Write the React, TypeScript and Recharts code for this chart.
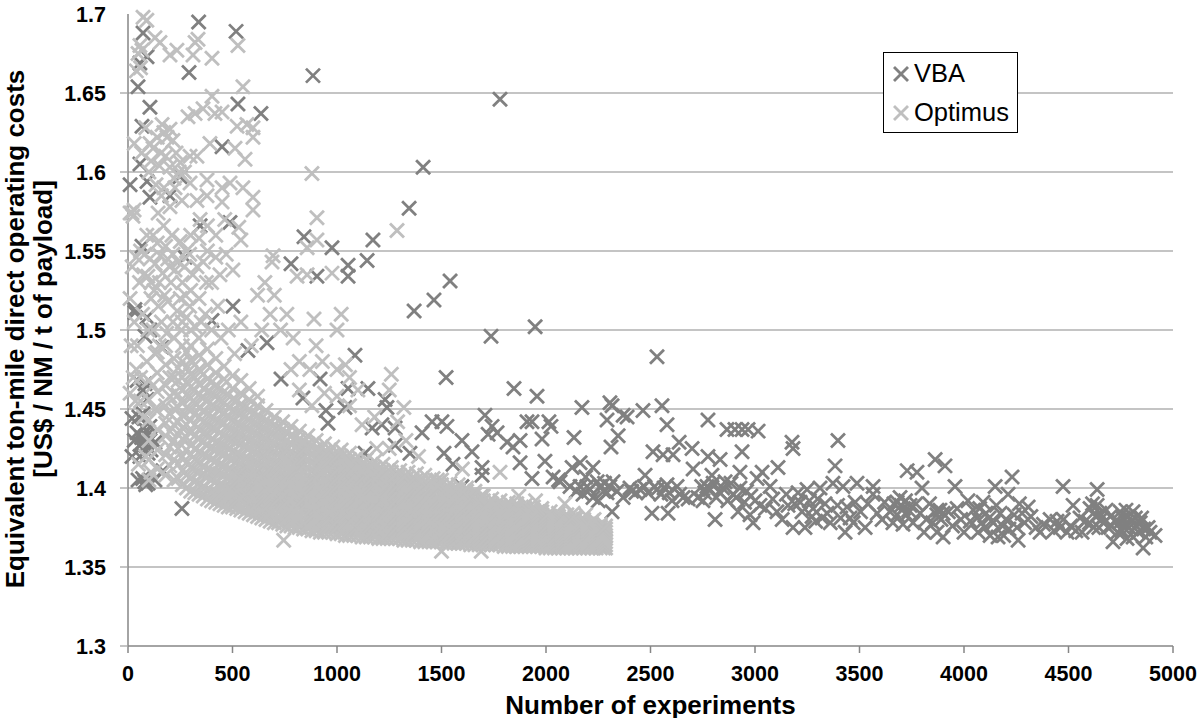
import { CartesianGrid, Legend, Scatter, ScatterChart, XAxis, YAxis } from "recharts";

const xTicks = [0, 500, 1000, 1500, 2000, 2500, 3000, 3500, 4000, 4500, 5000];
const yTicks = [1.3, 1.35, 1.4, 1.45, 1.5, 1.55, 1.6, 1.65, 1.7];
const gridValues = [1.35, 1.4, 1.45, 1.5, 1.55, 1.6, 1.65];
const FONT = "Liberation Sans, Arial, sans-serif";
const VBA_COLOR = "#808080";
const OPTIMUS_COLOR = "#bfbfbf";

const vbaEarly = [
  [338,1.695],[517,1.689],[885,1.661],[1780,1.646],[292,1.663],[526,1.643],[636,1.637],[67,1.629],[450,1.616],[57,1.605],
  [249,1.597],[91,1.594],[10,1.592],[201,1.585],[105,1.584],[488,1.568],[345,1.566],[842,1.559],[976,1.552],[1172,1.557],
  [1144,1.544],[1053,1.541],[1053,1.534],[904,1.534],[780,1.542],[67,1.553],[273,1.546],[72,1.688],[57,1.669],[91,1.673],
  [48,1.654],[105,1.641],[1412,1.603],[1345,1.577],[1541,1.531],[1464,1.519],[1369,1.512],[1948,1.502],[1737,1.496],[1522,1.47],
  [1847,1.463],[1957,1.458],[33,1.513],[33,1.511],[91,1.508],[105,1.5],[81,1.496],[163,1.489],[402,1.506],[502,1.515],
  [574,1.487],[665,1.492],[732,1.469],[919,1.469],[1086,1.484],[1053,1.463],[1148,1.463],[837,1.457],[947,1.449],[1038,1.451],
  [957,1.441],[1230,1.456],[1239,1.451],[1215,1.44],[1168,1.438],[1278,1.438],[1134,1.422],[1278,1.427],[258,1.387],[91,1.456],
  [72,1.447],[19,1.444],[43,1.435],[105,1.43],[72,1.429],[96,1.426],[19,1.42],[129,1.429],[57,1.42],[96,1.422],
  [48,1.405],[96,1.403],[129,1.405],[167,1.411],[105,1.439],[81,1.466],[43,1.468],[72,1.462],[80,1.404],[62,1.428],
  [88,1.433],[110,1.424],[75,1.438],[52,1.445],[85,1.402],[70,1.406],[65,1.432],[84,1.427],[92,1.436],[30,1.43],
];
const vbaMiddle = [
  [2172,1.451],[2306,1.454],[2316,1.452],[2555,1.452],[2464,1.449],[2292,1.443],[2388,1.445],[2369,1.446],[1708,1.446],[1909,1.442],
  [1933,1.442],[2014,1.442],[2024,1.439],[2579,1.44],[1455,1.442],[1502,1.442],[1526,1.439],[1407,1.435],[1742,1.439],[1723,1.434],
  [1766,1.435],[1814,1.429],[1876,1.43],[1842,1.426],[1981,1.431],[2134,1.432],[2345,1.433],[2311,1.426],[2637,1.429],[1598,1.43],
  [1512,1.422],[1646,1.423],[1555,1.415],[1349,1.422],[1694,1.413],[1694,1.408],[1876,1.416],[1995,1.417],[2163,1.416],[2125,1.413],
  [2225,1.413],[2474,1.408],[2512,1.423],[2560,1.421],[2608,1.421],[2699,1.425],[2704,1.412],[2034,1.407],[2067,1.404],[1933,1.406],
  [1598,1.401],[2163,1.401],[2196,1.401],[2259,1.401],[2321,1.404],[2292,1.397],[2225,1.394],[2115,1.401],[2177,1.396],[2402,1.4],
  [2369,1.394],[2450,1.399],[2488,1.397],[2531,1.399],[2579,1.402],[2627,1.401],[2603,1.392],[2656,1.394],[2727,1.394],[2316,1.385],
  [2507,1.384],[2584,1.384],[2531,1.483],[2060,1.405],[2210,1.399],[2280,1.403],[2340,1.398],[2430,1.397],[2470,1.401],[2550,1.396],
  [2590,1.397],[2640,1.396],[2680,1.393],[2245,1.404],[2275,1.398],[2305,1.401],[2250,1.392],[2190,1.407],[2145,1.398],[2410,1.398],
  [2520,1.401],[2565,1.4],
];
const vbaTail = [
  [2775,1.443],[2866,1.437],[2904,1.437],[2938,1.437],[2967,1.437],[3015,1.436],[2938,1.423],[2775,1.42],[2833,1.418],[3177,1.429],
  [3182,1.425],[3397,1.43],[3383,1.414],[3110,1.413],[3034,1.41],[2928,1.41],[2794,1.408],[2857,1.404],[2770,1.401],[2833,1.397],
  [2928,1.4],[3010,1.406],[3072,1.401],[2895,1.396],[2751,1.392],[2809,1.38],[3024,1.389],[2919,1.385],[2976,1.383],[2991,1.378],
  [3105,1.385],[3158,1.389],[3206,1.397],[3249,1.399],[3311,1.4],[3373,1.403],[3421,1.401],[3488,1.403],[3565,1.401],[3216,1.391],
  [3345,1.384],[3278,1.387],[3321,1.381],[3182,1.375],[3239,1.375],[3273,1.382],[3431,1.372],[3455,1.381],[3479,1.391],[3527,1.375],
  [3565,1.396],[3608,1.38],[3646,1.385],[3694,1.394],[3728,1.411],[3775,1.41],[3862,1.418],[3909,1.414],[3799,1.4],[3708,1.377],
  [3756,1.378],[3809,1.372],[3871,1.372],[3900,1.369],[3680,1.391],[3742,1.389],[3871,1.386],[3900,1.384],[3790,1.384],[3967,1.387],
  [3957,1.401],[4019,1.392],[4063,1.381],[4067,1.372],[4091,1.391],[4149,1.401],[4211,1.396],[4230,1.407],[4173,1.384],[4163,1.369],
  [4254,1.375],[4259,1.367],[4307,1.388],[4278,1.384],[4364,1.372],[4412,1.38],[4460,1.375],[4474,1.401],[4522,1.389],[4493,1.372],
  [4565,1.372],[4555,1.381],[4637,1.399],[4637,1.389],[4661,1.381],[4713,1.366],[4689,1.375],[4747,1.385],[4785,1.382],[4809,1.369],
  [4857,1.362],[4843,1.378],[4881,1.375],[4914,1.37],[4756,1.373],[4809,1.385],[4603,1.387],[3700,1.389],[3720,1.392],[3735,1.386],
  [3870,1.383],[3885,1.386],[4085,1.378],[4100,1.375],[4120,1.381],[4140,1.378],[4185,1.376],[4200,1.38],[4215,1.374],[4650,1.384],
  [4670,1.378],[4700,1.382],[4725,1.379],[4770,1.377],[4790,1.375],[4825,1.376],[4835,1.372],[4860,1.374],[4600,1.378],[4620,1.375],
];
const vbaBand = [
  [2745,1.401],[2760,1.397],[2785,1.399],[2800,1.403],[2815,1.394],[2845,1.4],[2870,1.392],[2885,1.403],[2910,1.394],[2950,1.391],
  [2960,1.398],[2980,1.395],[3000,1.392],[3050,1.387],[3085,1.393],[3130,1.38],[3150,1.396],[3190,1.39],[3225,1.385],[3260,1.392],
  [3290,1.379],[3300,1.393],[3335,1.39],[3360,1.378],[3395,1.389],[3410,1.381],[3440,1.388],[3470,1.378],[3505,1.385],[3540,1.39],
  [3585,1.384],[3620,1.391],[3660,1.378],[3665,1.39],[3680,1.383],[3710,1.387],[3725,1.383],[3770,1.39],[3820,1.38],[3835,1.39],
  [3850,1.378],[3890,1.38],[3925,1.385],[3945,1.376],[3985,1.38],[4000,1.372],[4030,1.379],[4045,1.386],[4075,1.387],[4105,1.384],
  [4125,1.37],[4155,1.389],[4190,1.37],[4240,1.383],[4265,1.39],[4290,1.378],[4320,1.382],[4345,1.375],[4380,1.377],[4430,1.373],
  [4445,1.379],[4475,1.38],[4510,1.376],[4535,1.373],[4580,1.379],[4615,1.39],[4630,1.382],[4645,1.375],[4680,1.386],[4705,1.376],
  [4735,1.372],[4745,1.378],[4760,1.381],[4775,1.386],[4800,1.379],[4820,1.381],[4850,1.381],[4870,1.369],[4890,1.372],[4780,1.368],
];

const optimusSparse = [
  [72,1.698],[90,1.696],[67,1.677],[48,1.675],[57,1.68],[60,1.666],[40,1.664],[129,1.685],[153,1.682],[201,1.674],[234,1.677],
  [321,1.682],[335,1.684],[311,1.674],[402,1.672],[526,1.68],[550,1.654],[402,1.648],[359,1.64],[321,1.637],[287,1.635],[450,1.638],
  [416,1.637],[522,1.629],[569,1.63],[598,1.628],[598,1.622],[512,1.615],[560,1.608],[392,1.618],[297,1.61],[330,1.61],[880,1.599],
  [904,1.571],[857,1.552],[904,1.557],[694,1.547],[689,1.543],[809,1.534],[857,1.535],[976,1.536],[1287,1.563],[502,1.538],[19,1.574],
  [10,1.574],[24,1.572],[29,1.576],[598,1.584],[598,1.576],[550,1.59],[488,1.593],[450,1.59],[450,1.581],[378,1.595],[378,1.585],
  [297,1.593],[258,1.582],[330,1.582],[201,1.578],[144,1.574],[100,1.6],[120,1.615],[163,1.63],[172,1.625],[187,1.622],[201,1.627],
  [215,1.62],[158,1.612],[110,1.607],[230,1.612],[250,1.606],[134,1.592],[172,1.59],[220,1.596],[270,1.6],[345,1.57],[380,1.566],
  [420,1.56],[463,1.57],[530,1.565],[540,1.557],[470,1.548],[420,1.546],[380,1.55],[340,1.558],[300,1.56],[280,1.55],[250,1.556],
  [210,1.56],[170,1.566],[120,1.56],[80,1.548],[40,1.546],[20,1.54],[10,1.52],[30,1.505],[55,1.53],[95,1.534],[130,1.542],
  [165,1.536],[190,1.545],[225,1.538],[260,1.53],[300,1.525],[340,1.52],[375,1.53],[110,1.52],[145,1.515],[190,1.518],[235,1.512],
  [280,1.508],[320,1.502],[655,1.53],[620,1.522],[700,1.522],[760,1.51],[790,1.495],[730,1.5],[680,1.51],[640,1.5],[590,1.49],
  [540,1.505],[480,1.5],[430,1.515],[890,1.507],[900,1.49],[930,1.48],[870,1.475],[820,1.48],[780,1.475],[1000,1.5],[1020,1.51],
  [1040,1.478],[1000,1.475],[1060,1.47],[1100,1.462],[1260,1.472],[1250,1.462],[1320,1.451],[1290,1.442],[1330,1.43],[1180,1.445],
  [1120,1.44],[1060,1.452],[1000,1.458],[940,1.46],[880,1.452],[820,1.462],[1190,1.425],[1250,1.425],[1480,1.405],[1390,1.42],
  [1600,1.412],[1690,1.395],[1780,1.41],[1870,1.395],[1950,1.392],[2090,1.39],[2130,1.384],[2190,1.383],[2230,1.38],[2260,1.376],
  [10,1.46],[25,1.47],[15,1.49],[35,1.455],[40,1.475],[60,1.47],[90,1.48],[120,1.5],[150,1.49],[745,1.367],[1500,1.36],[1690,1.36],
  [30,1.618],[65,1.612],[85,1.628],[105,1.618],[140,1.622],[150,1.604],[180,1.61],[200,1.603],[225,1.59],[245,1.6],[160,1.585],
  [60,1.55],[90,1.56],[105,1.545],[140,1.555],[155,1.547],[180,1.553],[200,1.54],[215,1.548],[240,1.543],[270,1.54],[295,1.548],
  [310,1.535],[330,1.54],[360,1.543],[400,1.53],[440,1.535],[75,1.535],[110,1.53],[125,1.525],[150,1.53],[175,1.522],[205,1.53],
  [250,1.52],[275,1.522],[215,1.505],[255,1.5],[295,1.515],[350,1.505],[370,1.51],[400,1.5],[445,1.495],[510,1.485],[160,1.505],
  [185,1.498],[130,1.485],[95,1.5],[70,1.51],[45,1.49],[60,1.455],[75,1.445],[85,1.42],[50,1.415],[110,1.41],[130,1.45],[120,1.465],
];

// the solid cloud, one [experiment, costs] per column
const optimusCloud: [number, number[]][] = [
  [100,[1.405,1.418,1.43,1.443,1.456,1.468]],
  [140,[1.412,1.424,1.437,1.449,1.461,1.473,1.486]],
  [180,[1.408,1.421,1.433,1.441,1.452,1.465,1.478,1.49]],
  [220,[1.405,1.418,1.43,1.44,1.45,1.46,1.47,1.482,1.495]],
  [260,[1.402,1.411,1.42,1.431,1.438,1.446,1.454,1.462,1.47,1.48,1.49,1.505]],
  [300,[1.398,1.406,1.413,1.421,1.427,1.435,1.443,1.449,1.457,1.464,1.472,1.481,1.49,1.5]],
  [340,[1.396,1.403,1.41,1.416,1.423,1.431,1.437,1.445,1.451,1.459,1.466,1.475,1.484,1.495]],
  [380,[1.393,1.399,1.407,1.412,1.42,1.427,1.434,1.44,1.447,1.455,1.461,1.469,1.478,1.488]],
  [420,[1.391,1.397,1.404,1.41,1.417,1.424,1.429,1.437,1.443,1.451,1.458,1.465,1.473,1.482]],
  [460,[1.389,1.395,1.401,1.408,1.414,1.421,1.427,1.433,1.441,1.447,1.454,1.461,1.469,1.477]],
  [500,[1.388,1.393,1.399,1.405,1.411,1.418,1.423,1.43,1.436,1.443,1.449,1.456,1.463,1.471]],
  [540,[1.386,1.392,1.397,1.403,1.409,1.415,1.421,1.428,1.434,1.44,1.447,1.453,1.46,1.468]],
  [580,[1.384,1.389,1.395,1.4,1.407,1.412,1.418,1.425,1.43,1.437,1.443,1.45,1.456,1.463]],
  [620,[1.382,1.388,1.393,1.399,1.404,1.41,1.416,1.422,1.428,1.434,1.44,1.446,1.452,1.458]],
  [660,[1.38,1.385,1.391,1.396,1.402,1.407,1.413,1.419,1.425,1.431,1.437,1.443,1.449]],
  [700,[1.378,1.383,1.389,1.394,1.4,1.405,1.411,1.416,1.423,1.428,1.434,1.44,1.445]],
  [740,[1.377,1.382,1.387,1.392,1.398,1.403,1.409,1.414,1.42,1.425,1.431,1.437,1.442]],
  [780,[1.376,1.38,1.386,1.39,1.396,1.401,1.406,1.412,1.417,1.423,1.428,1.433,1.439]],
  [820,[1.375,1.379,1.384,1.389,1.394,1.399,1.404,1.409,1.415,1.42,1.425,1.431,1.436]],
  [860,[1.374,1.378,1.383,1.388,1.392,1.397,1.402,1.408,1.413,1.418,1.423,1.428,1.433]],
  [900,[1.373,1.377,1.382,1.386,1.391,1.396,1.4,1.405,1.41,1.415,1.42,1.425,1.43]],
  [940,[1.372,1.376,1.381,1.385,1.39,1.394,1.399,1.404,1.409,1.413,1.418,1.423,1.428]],
  [980,[1.372,1.375,1.38,1.384,1.388,1.393,1.397,1.402,1.407,1.411,1.416,1.421,1.426]],
  [1020,[1.371,1.375,1.379,1.383,1.387,1.392,1.396,1.401,1.405,1.41,1.415,1.42,1.424]],
  [1060,[1.37,1.374,1.378,1.382,1.386,1.39,1.395,1.399,1.404,1.408,1.413,1.418,1.422]],
  [1100,[1.37,1.373,1.377,1.381,1.385,1.389,1.394,1.398,1.402,1.407,1.411,1.416,1.42]],
  [1140,[1.369,1.373,1.376,1.38,1.384,1.388,1.392,1.397,1.401,1.405,1.41,1.414,1.418]],
  [1180,[1.369,1.372,1.376,1.379,1.383,1.387,1.391,1.395,1.4,1.404,1.408,1.413,1.417]],
  [1220,[1.368,1.372,1.375,1.379,1.382,1.386,1.39,1.394,1.398,1.403,1.407,1.411,1.415]],
  [1260,[1.368,1.371,1.374,1.378,1.381,1.385,1.389,1.393,1.397,1.401,1.405,1.41,1.413]],
  [1300,[1.368,1.371,1.374,1.377,1.381,1.384,1.388,1.392,1.396,1.4,1.404,1.408,1.411]],
  [1340,[1.367,1.37,1.373,1.376,1.38,1.383,1.387,1.391,1.395,1.399,1.403,1.407,1.41]],
  [1380,[1.367,1.37,1.373,1.376,1.379,1.382,1.386,1.39,1.394,1.398,1.402,1.405,1.409]],
  [1420,[1.366,1.369,1.372,1.375,1.378,1.382,1.385,1.389,1.393,1.397,1.401,1.404,1.408]],
  [1460,[1.366,1.369,1.372,1.375,1.378,1.381,1.385,1.388,1.392,1.396,1.4,1.403,1.406]],
  [1500,[1.366,1.368,1.371,1.374,1.377,1.38,1.384,1.387,1.391,1.395,1.398,1.402,1.405]],
  [1540,[1.365,1.368,1.371,1.374,1.377,1.38,1.383,1.387,1.39,1.393,1.397,1.4,1.403]],
  [1580,[1.365,1.368,1.37,1.373,1.376,1.379,1.382,1.386,1.389,1.392,1.396,1.399,1.402]],
  [1620,[1.365,1.367,1.37,1.373,1.376,1.379,1.382,1.385,1.388,1.391,1.394,1.398,1.4]],
  [1660,[1.364,1.367,1.37,1.372,1.375,1.378,1.381,1.384,1.387,1.39,1.393,1.396,1.398]],
  [1700,[1.364,1.367,1.369,1.372,1.375,1.377,1.38,1.383,1.386,1.389,1.392,1.395]],
  [1740,[1.364,1.366,1.369,1.371,1.374,1.377,1.38,1.382,1.385,1.388,1.39,1.393]],
  [1780,[1.364,1.366,1.368,1.371,1.374,1.376,1.379,1.382,1.384,1.387,1.389,1.392]],
  [1820,[1.363,1.366,1.368,1.371,1.373,1.376,1.378,1.381,1.383,1.386,1.388,1.391]],
  [1860,[1.363,1.365,1.368,1.37,1.373,1.375,1.378,1.38,1.383,1.385,1.388,1.39]],
  [1900,[1.363,1.365,1.367,1.37,1.372,1.375,1.377,1.38,1.382,1.385,1.387,1.389]],
  [1940,[1.363,1.365,1.367,1.369,1.372,1.374,1.377,1.379,1.381,1.384,1.386,1.388]],
  [1980,[1.363,1.365,1.367,1.369,1.371,1.374,1.376,1.378,1.381,1.383,1.385,1.387]],
  [2020,[1.362,1.364,1.366,1.369,1.371,1.373,1.376,1.378,1.38,1.382,1.385]],
  [2060,[1.362,1.364,1.366,1.368,1.371,1.373,1.375,1.377,1.38,1.382,1.384]],
  [2100,[1.362,1.364,1.366,1.368,1.37,1.372,1.375,1.377,1.379,1.381,1.383]],
  [2140,[1.362,1.364,1.366,1.368,1.37,1.372,1.374,1.376,1.378,1.38,1.382]],
  [2180,[1.362,1.364,1.366,1.367,1.37,1.372,1.374,1.376,1.378,1.38]],
  [2220,[1.362,1.364,1.365,1.367,1.369,1.371,1.373,1.375,1.377,1.379]],
  [2260,[1.362,1.363,1.365,1.367,1.369,1.371,1.373,1.375,1.377]],
  [2285,[1.362,1.364,1.366,1.368,1.37,1.372,1.374,1.376]],
];

// second pass through the cloud, between the columns above
const optimusFill: [number, number[]][] = [
  [200,[1.414,1.426,1.436,1.447,1.458,1.47]],
  [240,[1.406,1.415,1.425,1.434,1.442,1.451,1.459,1.468,1.476]],
  [280,[1.4,1.408,1.416,1.424,1.432,1.44,1.451,1.459,1.467,1.476,1.486]],
  [320,[1.397,1.404,1.411,1.418,1.425,1.433,1.44,1.447,1.454,1.462,1.47,1.478]],
  [360,[1.395,1.401,1.408,1.414,1.421,1.429,1.435,1.442,1.449,1.457,1.463,1.472]],
  [400,[1.392,1.398,1.405,1.411,1.418,1.425,1.431,1.438,1.445,1.452,1.46,1.467]],
  [440,[1.39,1.396,1.402,1.409,1.415,1.422,1.428,1.435,1.442,1.449,1.456,1.463]],
  [480,[1.388,1.394,1.4,1.406,1.412,1.419,1.425,1.431,1.438,1.445,1.451,1.459]],
  [520,[1.387,1.392,1.398,1.404,1.41,1.416,1.422,1.429,1.435,1.441,1.448,1.455]],
  [560,[1.385,1.39,1.396,1.402,1.408,1.413,1.419,1.426,1.432,1.438,1.445,1.451]],
  [600,[1.383,1.388,1.394,1.4,1.405,1.411,1.417,1.423,1.429,1.435,1.441,1.447]],
  [640,[1.381,1.386,1.392,1.397,1.403,1.408,1.414,1.42,1.426,1.432,1.438,1.444]],
  [680,[1.379,1.384,1.39,1.395,1.401,1.406,1.412,1.418,1.424,1.429,1.435,1.441]],
  [720,[1.378,1.382,1.388,1.393,1.399,1.404,1.41,1.415,1.421,1.426,1.432,1.438]],
  [760,[1.376,1.381,1.386,1.391,1.397,1.402,1.407,1.413,1.418,1.424,1.43,1.435]],
  [800,[1.375,1.38,1.385,1.39,1.395,1.4,1.405,1.41,1.416,1.421,1.426,1.432]],
  [840,[1.374,1.378,1.384,1.388,1.393,1.398,1.403,1.409,1.414,1.419,1.424,1.429]],
  [880,[1.373,1.378,1.382,1.387,1.392,1.396,1.401,1.406,1.411,1.416,1.421,1.427]],
  [920,[1.372,1.376,1.381,1.386,1.39,1.395,1.4,1.404,1.409,1.414,1.419,1.424]],
  [960,[1.372,1.375,1.38,1.384,1.389,1.393,1.398,1.403,1.407,1.412,1.417,1.422]],
  [1000,[1.371,1.375,1.379,1.383,1.388,1.392,1.397,1.401,1.406,1.411,1.416,1.42]],
  [1040,[1.37,1.374,1.378,1.382,1.386,1.391,1.395,1.4,1.404,1.409,1.414,1.419]],
  [1080,[1.37,1.373,1.377,1.381,1.385,1.39,1.394,1.398,1.403,1.407,1.412,1.417]],
  [1120,[1.369,1.373,1.376,1.38,1.384,1.389,1.393,1.397,1.402,1.406,1.41,1.415]],
  [1160,[1.369,1.372,1.376,1.38,1.383,1.388,1.392,1.396,1.4,1.405,1.409,1.413]],
  [1200,[1.368,1.372,1.375,1.379,1.383,1.386,1.39,1.395,1.399,1.403,1.408,1.412]],
  [1240,[1.368,1.371,1.375,1.378,1.382,1.385,1.389,1.394,1.398,1.402,1.406,1.41]],
  [1280,[1.368,1.371,1.374,1.378,1.381,1.385,1.388,1.392,1.396,1.4,1.404,1.408]],
  [1320,[1.367,1.37,1.374,1.377,1.38,1.384,1.387,1.391,1.395,1.399,1.403,1.407]],
  [1360,[1.367,1.37,1.373,1.376,1.379,1.383,1.386,1.39,1.394,1.398,1.402,1.405]],
  [1400,[1.366,1.37,1.372,1.376,1.379,1.382,1.386,1.389,1.393,1.397,1.4,1.404]],
  [1440,[1.366,1.369,1.372,1.375,1.378,1.381,1.385,1.388,1.392,1.395,1.399,1.402]],
  [1480,[1.366,1.369,1.371,1.375,1.378,1.381,1.384,1.387,1.391,1.394,1.398,1.401]],
  [1520,[1.365,1.368,1.371,1.374,1.377,1.38,1.383,1.386,1.39,1.393,1.396,1.399]],
  [1560,[1.365,1.368,1.37,1.373,1.376,1.379,1.382,1.386,1.389,1.392,1.395,1.398]],
  [1600,[1.365,1.367,1.37,1.373,1.376,1.379,1.382,1.385,1.388,1.391,1.394,1.397]],
  [1640,[1.364,1.367,1.37,1.372,1.375,1.378,1.381,1.384,1.387,1.39,1.393]],
  [1680,[1.364,1.367,1.369,1.372,1.375,1.377,1.38,1.383,1.386,1.389,1.391]],
  [1720,[1.364,1.366,1.369,1.372,1.374,1.377,1.38,1.382,1.385,1.388,1.39]],
  [1760,[1.364,1.366,1.368,1.371,1.374,1.376,1.379,1.381,1.384,1.387,1.389]],
  [1800,[1.363,1.366,1.368,1.371,1.373,1.376,1.378,1.381,1.383,1.386,1.388]],
  [1840,[1.363,1.365,1.368,1.37,1.373,1.375,1.378,1.38,1.383,1.385,1.387]],
  [1880,[1.363,1.365,1.367,1.37,1.372,1.375,1.377,1.379,1.382,1.384,1.386]],
  [1920,[1.363,1.365,1.367,1.369,1.372,1.374,1.376,1.379,1.381,1.383,1.385]],
  [1960,[1.363,1.365,1.367,1.369,1.371,1.374,1.376,1.378,1.38,1.383,1.385]],
  [2000,[1.362,1.364,1.366,1.369,1.371,1.373,1.375,1.378,1.38,1.382]],
  [2040,[1.362,1.364,1.366,1.368,1.371,1.373,1.375,1.377,1.379,1.381]],
  [2080,[1.362,1.364,1.366,1.368,1.37,1.372,1.375,1.377,1.379,1.381]],
  [2120,[1.362,1.364,1.366,1.368,1.37,1.372,1.374,1.376,1.378,1.38]],
  [2160,[1.362,1.364,1.366,1.368,1.37,1.372,1.374,1.376,1.378]],
  [2200,[1.362,1.364,1.365,1.367,1.369,1.371,1.373,1.375,1.377]],
  [2240,[1.362,1.363,1.365,1.367,1.369,1.371,1.373,1.375]],
  [2275,[1.362,1.364,1.366,1.368,1.37,1.372,1.374]],
];

const toPoint = ([x, y]: number[]) => ({ x, y });
const vbaData = [...vbaEarly, ...vbaMiddle, ...vbaTail, ...vbaBand].map(toPoint);
const optimusData = [
  ...optimusSparse.map(toPoint),
  ...optimusCloud.flatMap(([x, ys]) => ys.map((y) => ({ x, y }))),
  ...optimusFill.flatMap(([x, ys]) => ys.map((y) => ({ x, y }))),
];

function Cross({ cx, cy, color }: { cx: number; cy: number; color: string }) {
  const r = 7;
  return (
    <g stroke={color} strokeWidth={2.8} fill="none">
      <line x1={cx - r} y1={cy - r} x2={cx + r} y2={cy + r} />
      <line x1={cx - r} y1={cy + r} x2={cx + r} y2={cy - r} />
    </g>
  );
}

function YTick({ x, y, payload }: any) {
  return (
    <g>
      {payload.value !== 1.7 && (
        <line x1={x} y1={y} x2={x + 7} y2={y} stroke="#b0b0b0" strokeWidth={1.5} />
      )}
      <text x={x - 14} y={y + 8} textAnchor="end" fontFamily={FONT} fontWeight="bold" fontSize={21.5} fill="#000">
        {payload.value}
      </text>
    </g>
  );
}

function YTitle() {
  return (
    <g fontFamily={FONT} fontWeight="bold" fontSize={26} fill="#000" textAnchor="middle">
      <text transform="translate(24,329) rotate(-90)">Equivalent ton-mile direct operating costs</text>
      <text transform="translate(52,329) rotate(-90)">[US$ / NM / t of payload]</text>
    </g>
  );
}

function LegendBox() {
  const row = (name: string, color: string) => (
    <div key={name} style={{ height: 39, display: "flex", alignItems: "center" }}>
      <svg width={18} height={18} style={{ marginLeft: 8, marginRight: 4 }}>
        <Cross cx={9} cy={9} color={color} />
      </svg>
      <span style={{ fontFamily: FONT, fontSize: 25.5, color: "#000" }}>{name}</span>
    </div>
  );
  return (
    <div style={{ background: "#fff", border: "1px solid #000", width: 135, height: 81, boxSizing: "border-box", paddingTop: 1 }}>
      {row("VBA", VBA_COLOR)}
      {row("Optimus", OPTIMUS_COLOR)}
    </div>
  );
}

export default function App() {
  return (
    <div style={{ position: "absolute", left: 0, top: 0 }}>
      <ScatterChart width={1198} height={718} margin={{ top: 14, right: 25, bottom: 0, left: 0 }}>
        <CartesianGrid horizontal vertical={false} horizontalValues={gridValues} stroke="#b0b0b0" strokeWidth={1.5} />
        <XAxis
          type="number"
          dataKey="x"
          domain={[0, 5000]}
          ticks={xTicks}
          interval={0}
          height={72}
          stroke="#868686"
          strokeWidth={1.5}
          tickSize={7}
          tickMargin={13}
          tick={{ fontFamily: FONT, fontWeight: "bold", fontSize: 21.5, fill: "#000" }}
          label={{
            value: "Number of experiments",
            position: "insideBottom",
            offset: 4,
            style: { fontFamily: FONT, fontWeight: "bold", fontSize: 26, fill: "#000" },
          }}
        />
        <YAxis
          type="number"
          dataKey="y"
          domain={[1.3, 1.7]}
          ticks={yTicks}
          interval={0}
          width={128}
          stroke="#868686"
          strokeWidth={1.5}
          tickLine={false}
          tick={<YTick />}
          label={{ content: <YTitle /> }}
        />
        <Legend
          layout="vertical"
          align="center"
          verticalAlign="middle"
          content={<LegendBox />}
          wrapperStyle={{ position: "absolute", left: 883, top: 52, width: 135, height: 81, bottom: "auto", right: "auto", margin: 0 }}
        />
        <Scatter
          name="VBA"
          data={vbaData}
          isAnimationActive={false}
          shape={(p: any) => <Cross cx={p.cx} cy={p.cy} color={VBA_COLOR} />}
        />
        <Scatter
          name="Optimus"
          data={optimusData}
          isAnimationActive={false}
          shape={(p: any) => <Cross cx={p.cx} cy={p.cy} color={OPTIMUS_COLOR} />}
        />
      </ScatterChart>
    </div>
  );
}
